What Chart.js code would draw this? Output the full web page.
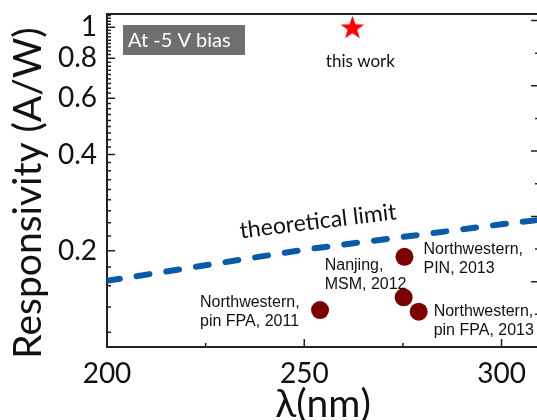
<!DOCTYPE html>
<html>
<head>
<meta charset="utf-8">
<script src="https://cdn.jsdelivr.net/npm/chart.js@4.4.1/dist/chart.umd.min.js"></script>
<style>
    html, body { margin: 0; padding: 0; background: #fff; overflow: hidden; }
    #wrap { width: 560px; height: 420px; }
</style>
</head>
<body>
<div id="wrap"><canvas id="respChart" width="560" height="420"></canvas></div>
<script>
// theoretical limit (100% QE)
const limitWavelength = [200, 250, 300, 310];
const limitResponsivity = [0.161, 0.2016, 0.242, 0.25];

// earlier detectors
const refWavelength = [254, 275.4, 275.2, 279];
const refResponsivity = [0.1305, 0.1915, 0.143, 0.129];
const refNames = [
    ["Northwestern,", "pin FPA, 2011"],
    ["Northwestern,", "PIN, 2013"],
    ["Nanjing,", "MSM, 2012"],
    ["Northwestern,", "pin FPA, 2013"],
];

// this work
const thisWavelength = [262.2];
const thisResponsivity = [1.0];

// axes
const xTickValues = [200, 250, 300];
const xMinorValues = [225, 275];
const yTickValues = [0.2, 0.4, 0.6, 0.8, 1];
const yTickLabels = ["0.2", "0.4", "0.6", "0.8", "1"];
const rightTickValues = [1, 2, 3, 4, 5];

const axisColor = "#222";
const textColor = "#111";
const fontFamily = "Lato, 'Open Sans', sans-serif";
const labelFamily = "'Liberation Sans', Arial, sans-serif";

// label offsets in pixels from each point
const refLabelPos = [
    { dx: -120, dy: -7 },
    { dx: 19, dy: -7 },
    { dx: -79, dy: -32 },
    { dx: 15, dy: 0 },
];

function makeStar(size, color) {
    const c = document.createElement("canvas");
    c.width = size;
    c.height = size;
    const g = c.getContext("2d");
    const r = size / 2;
    const inner = r * 0.4;
    g.beginPath();
    for (let i = 0; i < 10; i++) {
        const rad = i % 2 === 0 ? r : inner;
        const a = -Math.PI / 2 + (i * Math.PI) / 5;
        const px = r + rad * Math.cos(a);
        const py = r + 1 + rad * Math.sin(a);
        if (i === 0) g.moveTo(px, py);
        else g.lineTo(px, py);
    }
    g.closePath();
    g.fillStyle = color;
    g.fill();
    return c;
}

function toPoints(xs, ys) {
    return xs.map((x, i) => ({ x: x, y: ys[i] }));
}

function noEdgePadding(scale) {
    scale.paddingTop = 0;
    scale.paddingBottom = 0;
    scale.paddingLeft = 0;
    scale.paddingRight = 0;
}

const decorations = {
    id: "decorations",
    afterDraw(chart) {
        const ctx = chart.ctx;
        const area = chart.chartArea;
        const x = chart.scales.x;
        const y = chart.scales.y;
        const y2 = chart.scales.y2;

        ctx.save();
        ctx.strokeStyle = axisColor;
        ctx.lineWidth = 2;

        // top and right frame
        ctx.beginPath();
        ctx.moveTo(area.left, area.top);
        ctx.lineTo(area.right, area.top);
        ctx.lineTo(area.right, area.bottom);
        ctx.stroke();

        // inward tick marks
        ctx.lineWidth = 1.5;
        ctx.beginPath();
        xTickValues.forEach((v) => {
            const px = x.getPixelForValue(v);
            ctx.moveTo(px, area.bottom);
            ctx.lineTo(px, area.bottom - 8);
        });
        xMinorValues.forEach((v) => {
            const px = x.getPixelForValue(v);
            ctx.moveTo(px, area.bottom);
            ctx.lineTo(px, area.bottom - 4);
        });
        yTickValues.forEach((v) => {
            const py = y.getPixelForValue(v);
            ctx.moveTo(area.left, py);
            ctx.lineTo(area.left + 8, py);
        });
        // minor ticks: 8 between each 0.2 step
        for (let k = 5; k <= 49; k++) {
            const v = (k * 0.2) / 9;
            if (k % 9 === 0 || v < 0.1 || v > 1.1) continue;
            const py = y.getPixelForValue(v);
            ctx.moveTo(area.left, py);
            ctx.lineTo(area.left + 4, py);
        }
        rightTickValues.forEach((v) => {
            const py = y2.getPixelForValue(v);
            ctx.moveTo(area.right, py);
            ctx.lineTo(area.right - 8, py);
            const pm = y2.getPixelForValue(v - 0.5);
            ctx.moveTo(area.right, pm);
            ctx.lineTo(area.right - 4, pm);
        });
        ctx.stroke();

        // bias box
        ctx.fillStyle = "#6f6f6f";
        ctx.fillRect(area.left + 16, area.top + 11, 122, 30);
        ctx.fillStyle = "#fff";
        ctx.font = "20px " + fontFamily;
        ctx.textAlign = "left";
        ctx.textBaseline = "middle";
        ctx.fillText("At -5 V bias", area.left + 21, area.top + 27);

        // this work label
        ctx.fillStyle = textColor;
        ctx.font = "17px " + fontFamily;
        ctx.textAlign = "center";
        const sx = x.getPixelForValue(thisWavelength[0]);
        const sy = y.getPixelForValue(thisResponsivity[0]);
        ctx.fillText("this work", sx + 8, sy + 34);

        // reference labels
        ctx.font = "16px " + labelFamily;
        ctx.textAlign = "left";
        refNames.forEach((lines, i) => {
            const px = x.getPixelForValue(refWavelength[i]);
            const py = y.getPixelForValue(refResponsivity[i]);
            const pos = refLabelPos[i];
            lines.forEach((t, j) => {
                ctx.fillText(t, px + pos.dx, py + pos.dy + j * 19);
            });
        });

        // theoretical limit label along the dashed line
        ctx.save();
        ctx.translate(x.getPixelForValue(253.5), y.getPixelForValue(0.247));
        ctx.rotate((-7 * Math.PI) / 180);
        ctx.font = "23px " + fontFamily;
        ctx.textAlign = "center";
        ctx.fillText("theoretical limit", 0, 0);
        ctx.restore();

        // axis titles
        ctx.font = "39px " + fontFamily;
        ctx.textAlign = "center";
        ctx.fillText("\u03bb(nm)", (area.left + area.right) / 2, 404);
        ctx.save();
        ctx.translate(28, 193);
        ctx.rotate(-Math.PI / 2);
        ctx.fillText("Responsivity (A/W)", 0, 0);
        ctx.restore();

        ctx.restore();
    },
};

const ctx = document.getElementById("respChart").getContext("2d");

new Chart(ctx, {
    type: "scatter",
    data: {
        datasets: [
            {
                label: "theoretical limit",
                data: toPoints(limitWavelength, limitResponsivity),
                showLine: true,
                borderColor: "#0a5aab",
                borderWidth: 6,
                borderDash: [13, 17],
                borderCapStyle: "round",
                pointRadius: 0,
                order: 3,
            },
            {
                label: "references",
                data: toPoints(refWavelength, refResponsivity),
                pointRadius: 9,
                backgroundColor: "#7d0000",
                borderColor: "#7d0000",
                borderWidth: 0,
                order: 2,
            },
            {
                label: "this work",
                data: toPoints(thisWavelength, thisResponsivity),
                pointStyle: makeStar(25, "#ff0000"),
                order: 1,
            },
        ],
    },
    options: {
        responsive: false,
        animation: false,
        layout: { padding: { top: 14, right: 21, left: 0, bottom: 0 } },
        plugins: {
            legend: { display: false },
            tooltip: { enabled: false },
        },
        scales: {
            x: {
                type: "linear",
                min: 200,
                max: 309.5,
                afterBuildTicks: (scale) => {
                    scale.ticks = xTickValues.map((v) => ({ value: v }));
                },
                afterFit: (scale) => {
                    scale.height = 73;
                    noEdgePadding(scale);
                },
                ticks: {
                    color: textColor,
                    font: { family: fontFamily, size: 28 },
                    padding: 10,
                    maxRotation: 0,
                },
                grid: { display: false, drawTicks: false },
                border: { display: true, color: axisColor, width: 2 },
            },
            y: {
                type: "logarithmic",
                position: "left",
                min: 0.1,
                max: 1.1,
                afterBuildTicks: (scale) => {
                    scale.ticks = yTickValues.map((v) => ({ value: v }));
                },
                afterFit: (scale) => {
                    scale.width = 107;
                    noEdgePadding(scale);
                },
                ticks: {
                    color: textColor,
                    font: { family: fontFamily, size: 28 },
                    padding: 10,
                    autoSkip: false,
                    callback: function (value) {
                        const i = yTickValues.indexOf(value);
                        return i >= 0 ? yTickLabels[i] : "";
                    },
                },
                grid: { display: false, drawTicks: false },
                border: { display: true, color: axisColor, width: 2 },
            },
            y2: {
                type: "linear",
                position: "right",
                min: 0,
                max: 5.1,
                display: true,
                afterFit: (scale) => {
                    scale.width = 0;
                    noEdgePadding(scale);
                },
                ticks: { display: false },
                grid: { display: false, drawTicks: false },
                border: { display: false },
            },
        },
    },
    plugins: [decorations],
});
</script>
</body>
</html>
